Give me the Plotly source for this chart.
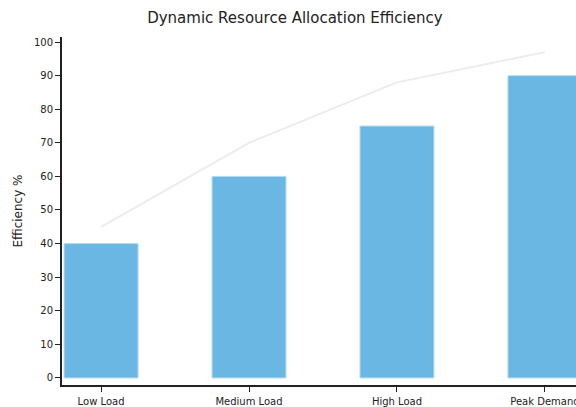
import plotly.graph_objects as go

categories = ["Low Load", "Medium Load", "High Load", "Peak Demand"]
allocated = [40, 60, 75, 90]
trend = [45, 70, 88, 97]

fig = go.Figure()
fig.add_trace(go.Bar(
    x=categories, y=allocated, width=0.5,
    marker=dict(color="#6bb7e3", line=dict(color="#b5dcf2", width=1)),
    showlegend=False,
))
fig.add_trace(go.Scatter(
    x=categories, y=trend, mode="lines",
    line=dict(color="#ececec", width=2),
    showlegend=False,
))

fig.update_layout(
    width=576, height=407,
    margin=dict(l=62, r=0, t=37, b=22),
    paper_bgcolor="white", plot_bgcolor="white",
    font=dict(family="DejaVu Sans", color="#222"),
    title=dict(text="Dynamic Resource Allocation Efficiency", x=0.512, xref="container",
               xanchor="center", y=0.957, yanchor="middle",
               font=dict(size=15, family="DejaVu Sans", color="#222")),
    xaxis=dict(
        range=[-0.264, 3.21], showgrid=False, showline=True, linecolor="#222",
        linewidth=2, ticks="outside", ticklen=5, tickcolor="#222",
        tickfont=dict(size=10), zeroline=False, ticklabelstandoff=1,
        automargin=False,
    ),
    yaxis=dict(
        range=[-2.1, 101.5], dtick=10, showgrid=False, showline=True,
        linecolor="#222", linewidth=2, ticks="outside", ticklen=5,
        tickcolor="#222", tickfont=dict(size=10), zeroline=False,
        title=dict(text="Efficiency %", font=dict(size=12), standoff=9),
        automargin=False,
    ),
)

fig.write_html("out.html")
